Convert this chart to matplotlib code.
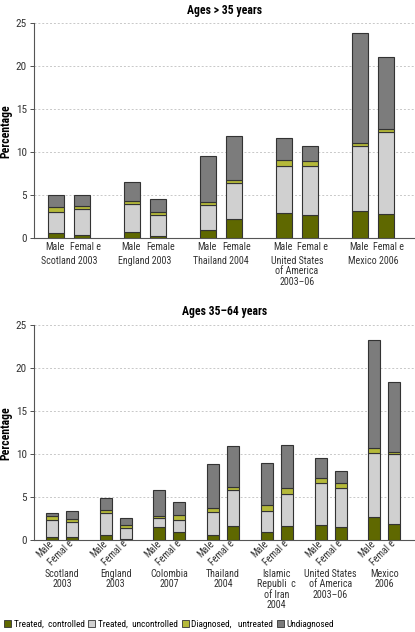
import matplotlib
matplotlib.use("Agg")
import matplotlib.pyplot as plt
import numpy as np
from matplotlib.transforms import blended_transform_factory, ScaledTranslation
from matplotlib.patches import Patch

plt.rcParams['font.family'] = ['Roboto Condensed', 'DejaVu Sans']

# ---------------- data ----------------
series = ["Treated,  controlled", "Treated,  uncontrolled", "Diagnosed,   untreated", "Undiagnosed"]
colors = ["#5f6800", "#d0d0d0", "#b5b93a", "#7c7c7c"]

top_groups = ["Scotland 2003", "England 2003", "Thailand 2004", "United States\nof America\n2003\u201306", "Mexico 2006"]
top_sex = [["Male", "Femal e"], ["Male", "Female"], ["Male", "Female"], ["Male", "Femal e"], ["Male", "Femal e"]]
# order: male, female for each group
top_controlled   = [0.58, 0.35, 0.70, 0.31, 0.97, 2.20, 2.98, 2.71, 3.22, 2.83]
top_uncontrolled = [2.52, 3.02, 3.29, 2.36, 2.91, 4.27, 5.43, 5.74, 7.48, 9.50]
top_diagnosed    = [0.58, 0.39, 0.35, 0.43, 0.31, 0.31, 0.74, 0.58, 0.39, 0.42]
top_undiagnosed  = [1.36, 1.28, 2.16, 1.43, 5.34, 5.12, 2.55, 1.67, 12.75, 8.30]

bot_groups = ["Scotland\n2003", "England\n2003", "Colombia\n2007", "Thailand\n2004",
              "Islamic\nRepubli  c\nof Iran\n2004", "United States\nof America\n2003\u201306", "Mexico\n2006"]
bot_sex = ["Male", "Femal e"]
bot_controlled   = [0.40, 0.39, 0.62, 0.15, 1.50, 1.00, 0.62, 1.70, 0.97, 1.66, 1.74, 1.59, 2.71, 1.86]
bot_uncontrolled = [2.00, 1.78, 2.51, 1.24, 1.13, 1.36, 2.71, 4.14, 2.43, 3.68, 4.95, 4.52, 7.38, 8.12]
bot_diagnosed    = [0.42, 0.27, 0.39, 0.35, 0.23, 0.54, 0.38, 0.31, 0.66, 0.77, 0.58, 0.50, 0.62, 0.27]
bot_undiagnosed  = [0.38, 0.96, 1.38, 0.86, 2.94, 1.55, 5.11, 4.75, 4.87, 4.99, 2.24, 1.43, 12.53, 8.11]

W, H = 415, 632
fig = plt.figure(figsize=(W / 100, H / 100), dpi=100)
TXT = "#333333"
FS = 7.2


def px_axes(left, top, right, bottom):
    return fig.add_axes([left / W, 1 - bottom / H, (right - left) / W, (bottom - top) / H])


def draw_panel(ax, groups, sexlabels, stacks, gap, width, xlim, title, label_y, tick_rot):
    n = len(groups)
    male = np.arange(n) * gap
    pos = np.ravel(np.column_stack([male, male + 1]))
    bottom = np.zeros(len(pos))
    for vals, c in zip(stacks, colors):
        ax.bar(pos, vals, width, bottom=bottom, color=c, edgecolor="#333333", linewidth=0.8, zorder=3)
        bottom += np.array(vals)
    ax.set_xlim(*xlim)
    ax.set_ylim(0, 25)
    ax.set_yticks([0, 5, 10, 15, 20, 25])
    for y in [5, 10, 15, 20, 25]:
        ax.axhline(y, color="#c8c8c8", linestyle=(0, (2, 2)), linewidth=0.7, zorder=1)
    for s in ["top", "right"]:
        ax.spines[s].set_visible(False)
    ax.spines["left"].set_color("#555555")
    ax.spines["bottom"].set_color("#555555")
    ax.tick_params(axis="y", length=3, labelsize=8, colors=TXT, pad=2, width=0.6)
    ax.tick_params(axis="x", length=0, labelsize=FS, colors=TXT, pad=2.5)
    ax.set_xticks(pos)
    ax.set_xticklabels(sexlabels)
    if tick_rot:
        ax.tick_params(axis="x", pad=1)
        for t in ax.get_xticklabels():
            t.set_rotation(45)
            t.set_ha("right")
            t.set_va("center")
            t.set_rotation_mode("anchor")
    else:
        shift = ScaledTranslation(3 / 100, 0, fig.dpi_scale_trans)
        back = ScaledTranslation(-1 / 100, 0, fig.dpi_scale_trans)
        labels = ax.get_xticklabels()
        for t in labels[1::2]:
            t.set_transform(t.get_transform() + shift)
        for t in labels[0::2]:
            t.set_transform(t.get_transform() + back)
    ax.set_title(title, fontsize=8.5, fontweight="bold", pad=7)
    ax.set_ylabel("Percentage", fontsize=8.5, fontweight="bold")
    ax.yaxis.set_label_coords(-0.058, 0.5)
    tr = blended_transform_factory(ax.transData, fig.transFigure)
    for m, g in zip(male, groups):
        ax.text(m + 0.5, 1 - label_y / H, g, transform=tr, ha="center", va="top",
                fontsize=FS, color=TXT, linespacing=1.05)


ax1 = px_axes(34, 23.3, 415, 238.3)
labels_top = [s for pair in top_sex for s in pair]
draw_panel(ax1, top_groups, labels_top,
           [top_controlled, top_uncontrolled, top_diagnosed, top_undiagnosed],
           2.92, 0.62, (-0.846, 13.8), "Ages > 35 years", 256, False)

ax2 = px_axes(34, 325, 415, 540.3)
labels_bot = bot_sex * len(bot_groups)
draw_panel(ax2, bot_groups, labels_bot,
           [bot_controlled, bot_uncontrolled, bot_diagnosed, bot_undiagnosed],
           2.685, 0.6, (-0.9, 18.15), "Ages 35\u201364 years", 569, True)

handles = [Patch(facecolor=c, edgecolor="#333333", linewidth=0.6) for c in colors]
fig.legend(handles, series, loc="lower left", bbox_to_anchor=(-0.004, -0.004), ncol=4,
           frameon=False, fontsize=6.7, handlelength=0.75, handleheight=0.75,
           handletextpad=0.3, columnspacing=0.4, borderaxespad=0.2)

fig.savefig("out.png", dpi=100)
